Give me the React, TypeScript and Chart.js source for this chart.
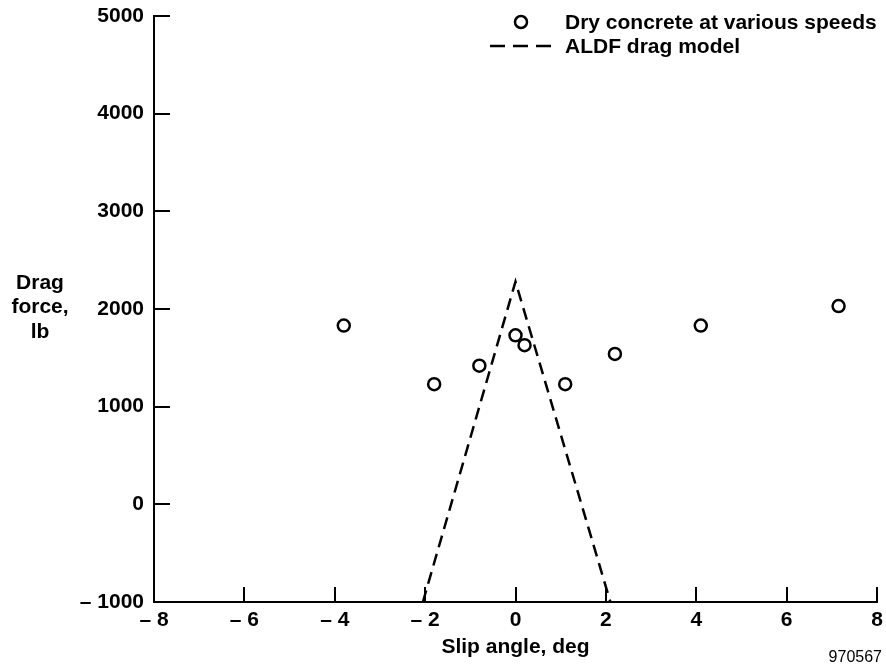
import React, { useEffect, useRef } from "react";
import { Chart, registerables } from "chart.js";

Chart.register(...registerables);

// ---- Data ----
const slipAngles = [-3.8, -1.8, -0.8, 0.0, 0.2, 1.1, 2.2, 4.1, 7.15];
const dragForces = [1830, 1230, 1420, 1730, 1630, 1230, 1540, 1830, 2030];
const modelSlip = [-2.05, 0.0, 2.1];
const modelDrag = [-1000, 2280, -1000];
const xTicks = [-8, -6, -4, -2, 0, 2, 4, 6, 8];
const yTicks = [-1000, 0, 1000, 2000, 3000, 4000, 5000];
const seriesLabels = ["Dry concrete at various speeds", "ALDF drag model"];
const xTitle = "Slip angle, deg";
const yTitleLines = ["Drag", "force,", "lb"];
const figureId = "970567";

const FONT = "'Liberation Sans', Arial, Helvetica, sans-serif";
const FS = 21;
const BOLD = (s: number) => `bold ${s}px ${FONT}`;

const fmt = (v: number) => (v < 0 ? `\u2013 ${Math.abs(v)}` : String(v));

const inwardTicks = {
  id: "inwardTicks",
  afterDatasetsDraw(chart: any) {
    const { ctx, chartArea, scales } = chart;
    ctx.save();
    ctx.strokeStyle = "#000";
    ctx.lineWidth = 2;
    scales.x.ticks.forEach((t: any) => {
      const px = Math.round(scales.x.getPixelForValue(t.value));
      ctx.beginPath();
      ctx.moveTo(px, chartArea.bottom);
      ctx.lineTo(px, chartArea.bottom - 15);
      ctx.stroke();
    });
    scales.y.ticks.forEach((t: any) => {
      const py = Math.round(scales.y.getPixelForValue(t.value));
      ctx.beginPath();
      ctx.moveTo(chartArea.left, py);
      ctx.lineTo(chartArea.left + 16, py);
      ctx.stroke();
    });
    ctx.restore();
  },
};

const extras = {
  id: "extras",
  afterDraw(chart: any) {
    const { ctx, chartArea } = chart;
    ctx.save();
    ctx.fillStyle = "#000";
    ctx.strokeStyle = "#000";
    // Y title (horizontal, stacked)
    ctx.font = BOLD(FS);
    ctx.textAlign = "center";
    ctx.textBaseline = "middle";
    const ytx = chartArea.left - 114;
    yTitleLines.forEach((ln, i) => {
      ctx.fillText(ln, ytx, 283 + i * 24.5);
    });
    // Legend
    const lx = 521;
    ctx.lineWidth = 2.5;
    ctx.beginPath();
    ctx.arc(lx, 22, 6, 0, Math.PI * 2);
    ctx.stroke();
    ctx.setLineDash([15, 8]);
    ctx.beginPath();
    ctx.moveTo(490, 46);
    ctx.lineTo(552, 46);
    ctx.stroke();
    ctx.setLineDash([]);
    ctx.font = BOLD(FS);
    ctx.textAlign = "left";
    ctx.textBaseline = "middle";
    ctx.fillText(seriesLabels[0], 565, 23);
    ctx.fillText(seriesLabels[1], 565, 47);
    // figure id
    ctx.font = `16px ${FONT}`;
    ctx.textAlign = "right";
    ctx.fillText(figureId, 882, 658);
    ctx.restore();
  },
};

export default function App() {
  const ref = useRef<HTMLCanvasElement | null>(null);
  useEffect(() => {
    if (!ref.current) return;
    const chart = new Chart(ref.current, {
      type: "scatter",
      data: {
        datasets: [
          {
            label: seriesLabels[1],
            data: modelSlip.map((x, i) => ({ x, y: modelDrag[i] })),
            showLine: true,
            borderColor: "#000",
            borderWidth: 2.5,
            borderDash: [12, 7],
            pointRadius: 0,
            fill: false,
          },
          {
            label: seriesLabels[0],
            data: slipAngles.map((x, i) => ({ x, y: dragForces[i] })),
            showLine: false,
            pointStyle: "circle",
            pointRadius: 6,
            pointBorderWidth: 2.5,
            pointBorderColor: "#000",
            pointBackgroundColor: "rgba(255,255,255,0)",
          },
        ],
      },
      options: {
        responsive: false,
        animation: false,
        devicePixelRatio: 1,
        layout: { padding: { left: 0, top: 16, right: 9, bottom: 0 } },
        plugins: {
          legend: { display: false },
          tooltip: { enabled: false },
        },
        scales: {
          x: {
            type: "linear",
            min: -8,
            max: 8,
            afterBuildTicks: (s: any) => {
              s.ticks = xTicks.map((v) => ({ value: v }));
            },
            afterFit: (s: any) => {
              s.height = 69;
              s.paddingLeft = 0;
              s.paddingRight = 0;
            },
            grid: { display: false, drawTicks: false },
            border: { display: true, color: "#000", width: 2 },
            ticks: {
              color: "#000",
              font: { family: FONT, size: FS, weight: "bold" },
              padding: 6,
              maxRotation: 0,
              autoSkip: false,
              callback: (v: any) => fmt(Number(v)),
            },
            title: {
              display: true,
              text: xTitle,
              color: "#000",
              font: { family: FONT, size: FS, weight: "bold" },
              padding: { top: 0, bottom: 11 },
            },
          },
          y: {
            type: "linear",
            min: -1000,
            max: 5000,
            afterBuildTicks: (s: any) => {
              s.ticks = yTicks.map((v) => ({ value: v }));
            },
            afterFit: (s: any) => {
              s.width = 154;
              s.paddingTop = 0;
              s.paddingBottom = 0;
            },
            grid: { display: false, drawTicks: false },
            border: { display: true, color: "#000", width: 2 },
            ticks: {
              color: "#000",
              font: { family: FONT, size: FS, weight: "bold" },
              padding: 10,
              autoSkip: false,
              callback: (v: any) => fmt(Number(v)),
            },
          },
        },
      },
      plugins: [inwardTicks, extras],
    } as any);
    return () => chart.destroy();
  }, []);
  return (
    <div style={{ position: "fixed", left: 0, top: 0, width: 886, height: 671, background: "#fff" }}>
      <canvas ref={ref} width={886} height={671} style={{ display: "block" }} />
    </div>
  );
}
